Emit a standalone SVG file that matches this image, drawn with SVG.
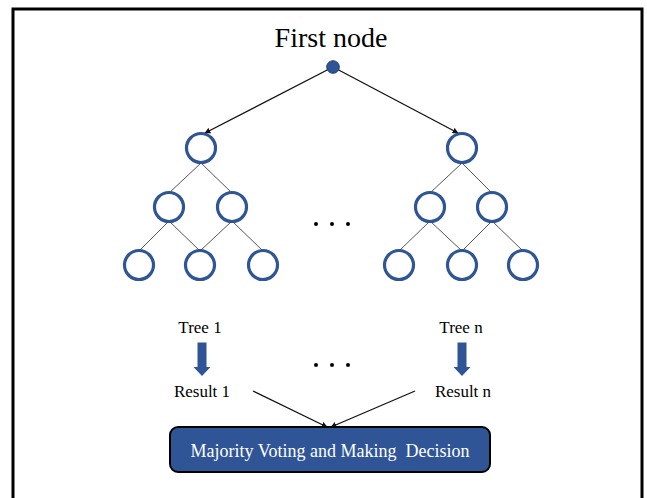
<svg xmlns="http://www.w3.org/2000/svg" width="647" height="498" viewBox="0 0 647 498">
<style>
.t{font-family:"Liberation Serif","Times New Roman",serif;fill:#000;text-anchor:middle}
.n{fill:#fff;stroke:#2F5597;stroke-width:3.2}
.e{stroke:#555;stroke-width:1;fill:none}
.a{stroke:#111;stroke-width:1.3;fill:none}
.dot{fill:#000}
.blue{fill:#2F5597}
</style>
<defs>
<marker id="ah" viewBox="0 0 10 10" refX="9" refY="5" markerWidth="6" markerHeight="6" markerUnits="userSpaceOnUse" orient="auto">
<path d="M0,0 L10,5 L0,10 z" fill="#111"/>
</marker>
</defs>
<rect width="647" height="498" fill="#fff"/>
<path d="M13,500 V9 H642 V500" fill="none" stroke="#000" stroke-width="3"/>
<text class="t" x="331" y="47" font-size="28">First node</text>
<g id="connectors">
<line class="a" x1="333" y1="67" x2="205" y2="133" marker-end="url(#ah)"/>
<line class="a" x1="333" y1="67" x2="458" y2="133" marker-end="url(#ah)"/>
<line class="e" x1="201" y1="163" x2="169" y2="193"/>
<line class="e" x1="201" y1="163" x2="232" y2="193"/>
<line class="e" x1="169" y1="221" x2="139" y2="251"/>
<line class="e" x1="169" y1="221" x2="200" y2="251"/>
<line class="e" x1="232" y1="221" x2="200" y2="251"/>
<line class="e" x1="232" y1="221" x2="263" y2="251"/>
<line class="e" x1="462" y1="163" x2="430" y2="193"/>
<line class="e" x1="462" y1="163" x2="492" y2="193"/>
<line class="e" x1="430" y1="221" x2="399" y2="251"/>
<line class="e" x1="430" y1="221" x2="462" y2="251"/>
<line class="e" x1="492" y1="221" x2="462" y2="251"/>
<line class="e" x1="492" y1="221" x2="523" y2="251"/>
<line class="a" x1="253" y1="391" x2="327" y2="427" marker-end="url(#ah)"/>
<line class="a" x1="415" y1="391" x2="331" y2="427" marker-end="url(#ah)"/>
</g>
<g id="root"><circle cx="333" cy="67" r="6.3" class="blue" stroke="#1F3F7A" stroke-width="1"/></g>
<g id="tree1">
<circle class="n" cx="201" cy="148" r="14.5"/>
<circle class="n" cx="169" cy="207" r="14.5"/>
<circle class="n" cx="232" cy="207" r="14.5"/>
<circle class="n" cx="139" cy="265" r="14.5"/>
<circle class="n" cx="200" cy="265" r="14.5"/>
<circle class="n" cx="263" cy="265" r="14.5"/>
</g>
<g id="treen">
<circle class="n" cx="462" cy="148" r="14.5"/>
<circle class="n" cx="430" cy="207" r="14.5"/>
<circle class="n" cx="492" cy="207" r="14.5"/>
<circle class="n" cx="399" cy="265" r="14.5"/>
<circle class="n" cx="462" cy="265" r="14.5"/>
<circle class="n" cx="523" cy="265" r="14.5"/>
</g>
<g id="dots1">
<circle class="dot" cx="316" cy="224" r="2"/>
<circle class="dot" cx="332" cy="224" r="2"/>
<circle class="dot" cx="348" cy="224" r="2"/>
</g>
<g id="dots2">
<circle class="dot" cx="316" cy="365" r="2"/>
<circle class="dot" cx="332" cy="365" r="2"/>
<circle class="dot" cx="348" cy="365" r="2"/>
</g>
<g id="tree1label"><text class="t" x="200" y="333" font-size="17">Tree 1</text></g>
<g id="treenlabel"><text class="t" x="461" y="333" font-size="17">Tree n</text></g>
<g id="arrow1"><path class="blue" d="M197.5,342.5 H206.5 V367 H210.5 L202,376 L193.5,367 H197.5 Z"/></g>
<g id="arrown"><path class="blue" d="M457.5,342.5 H466.5 V367 H470.5 L462,376 L453.5,367 H457.5 Z"/></g>
<g id="result1"><text class="t" x="202" y="397" font-size="17">Result 1</text></g>
<g id="resultn"><text class="t" x="463" y="397" font-size="17">Result n</text></g>
<g id="decision">
<rect x="170" y="427" width="320" height="45" rx="8" fill="#2F5597" stroke="#000" stroke-width="2"/>
<text class="t" x="330" y="457" font-size="18" style="fill:#fff" xml:space="preserve">Majority Voting and Making  Decision</text>
</g>
</svg>
